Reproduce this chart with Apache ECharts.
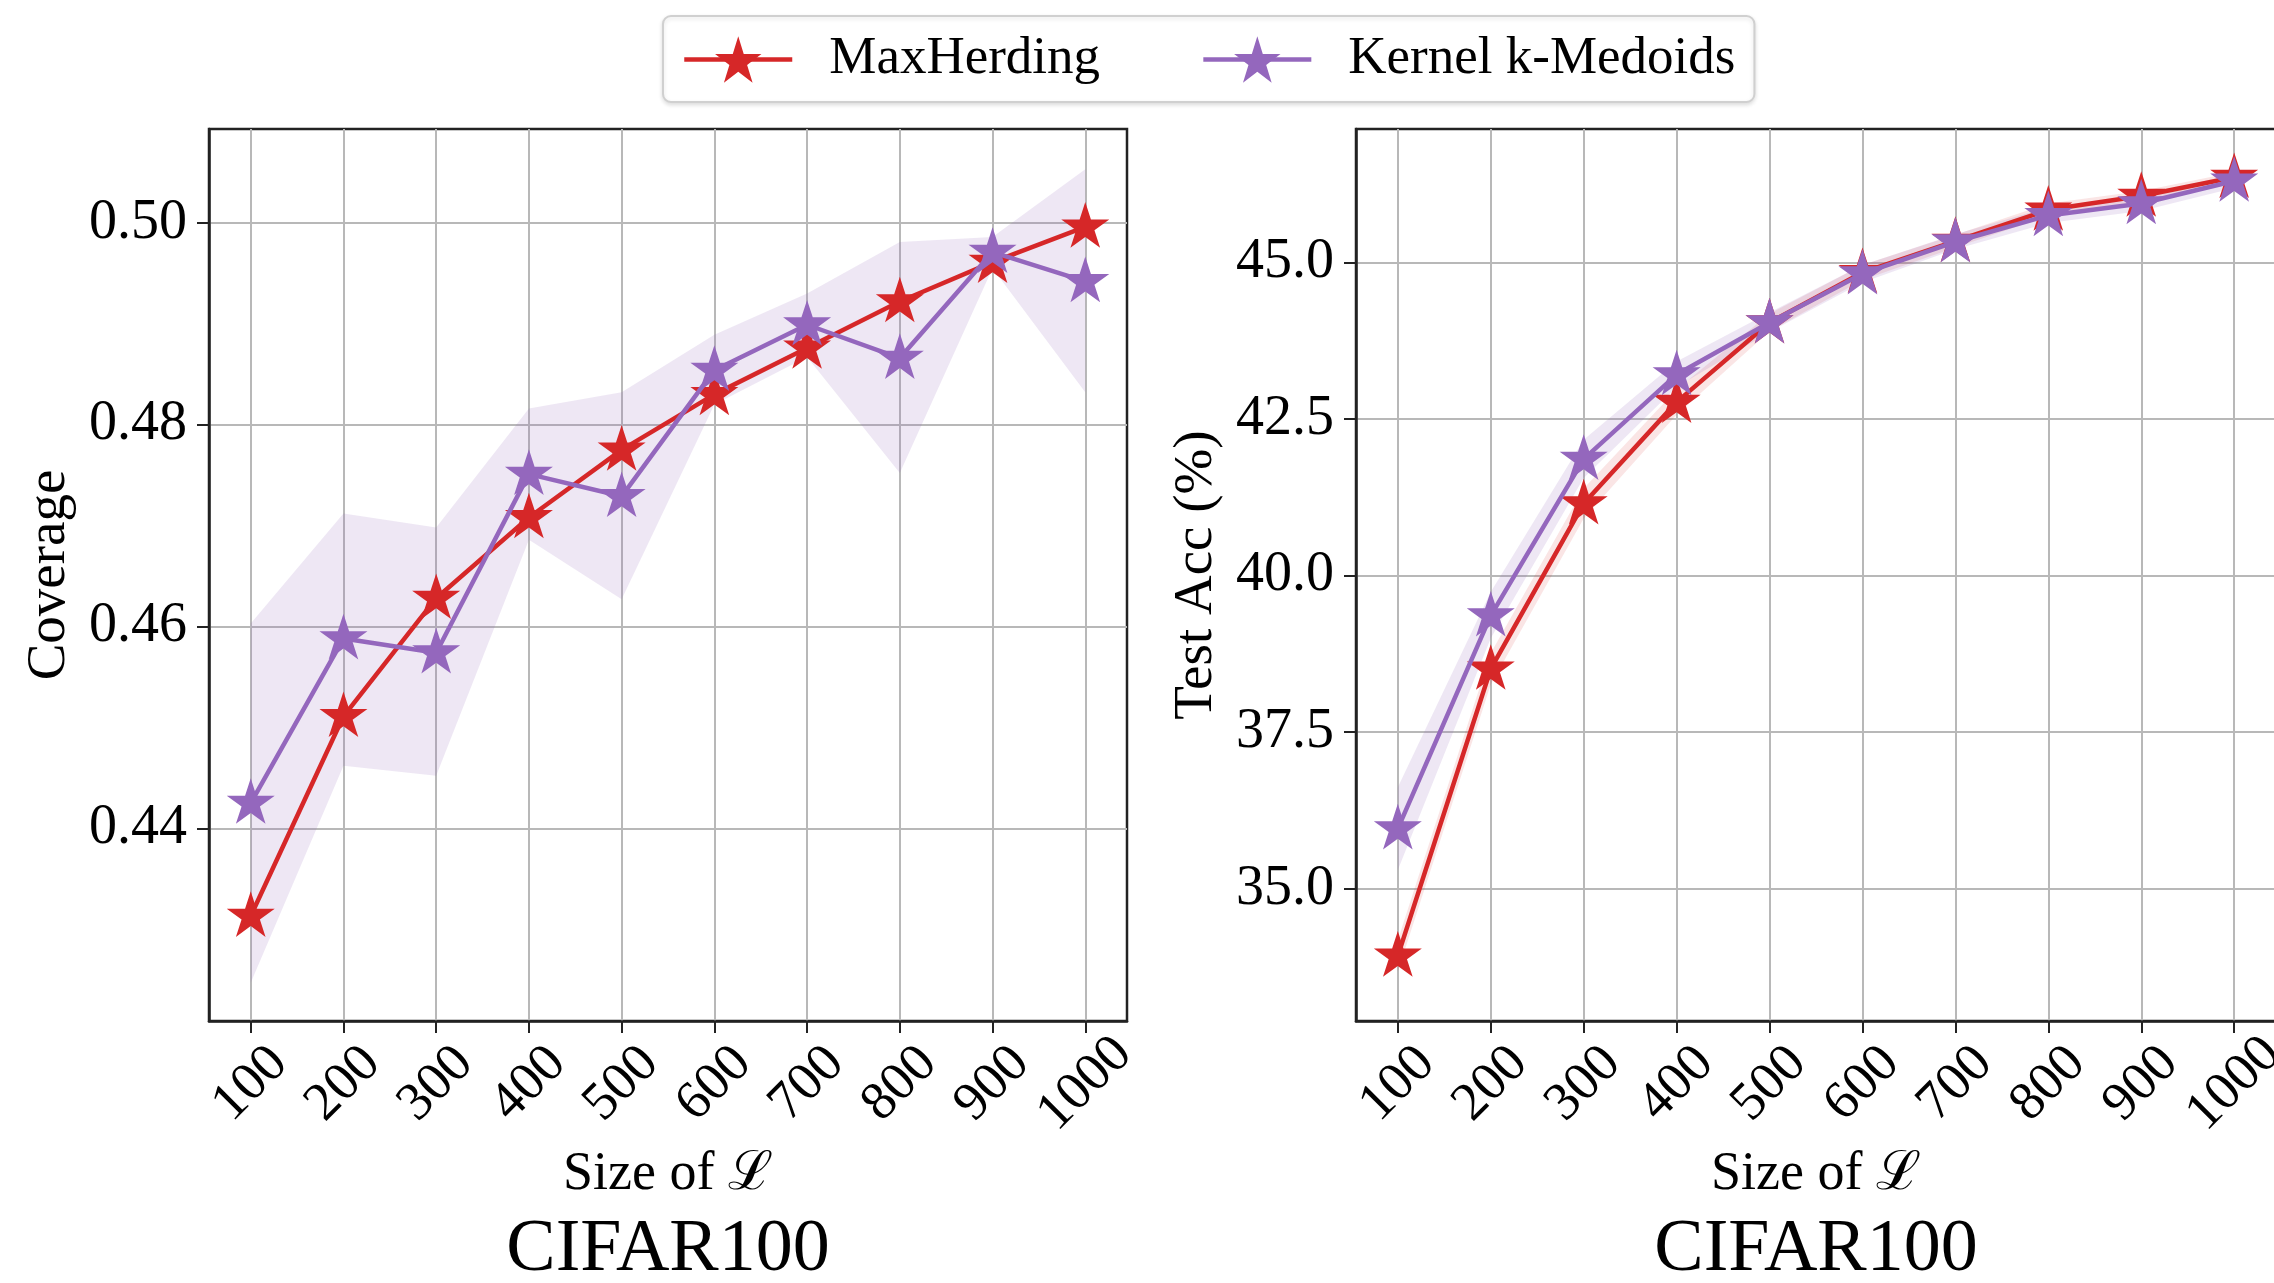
<!DOCTYPE html>
<html><head><meta charset="utf-8">
<script src="https://cdn.jsdelivr.net/npm/echarts@6/dist/echarts.min.js"></script>
<style>html,body{margin:0;padding:0;background:#fff}#c{width:2274px;height:1283px}</style>
</head><body><div id="c"></div>
<script>
// ---------- data ----------
const sizes = [100, 200, 300, 400, 500, 600, 700, 800, 900, 1000];
const seriesNames = ['MaxHerding', 'Kernel k-Medoids'];
const panelTitle = 'CIFAR100';
const xName = 'Size of \u2112';
const yNameLeft = 'Coverage';
const yNameRight = 'Test Acc (%)';

// left panel: coverage
const covMaxHerding = [0.4313, 0.4511, 0.4628, 0.4708, 0.4775, 0.4830, 0.4876, 0.4922, 0.4961, 0.4996];
const covKMedoids = [0.4425, 0.4588, 0.4574, 0.4751, 0.4729, 0.4854, 0.4899, 0.4866, 0.4971, 0.4942];
const covKMedoidsLow = [0.4247, 0.4462, 0.4452, 0.4686, 0.4627, 0.4820, 0.4867, 0.4752, 0.4955, 0.4832];
const covKMedoidsHigh = [0.4603, 0.4712, 0.4698, 0.4816, 0.4832, 0.4889, 0.4930, 0.4981, 0.4986, 0.5053];
const covTicks = [0.44, 0.46, 0.48, 0.50];

// right panel: test accuracy
const accMaxHerding = [33.93, 38.51, 41.15, 42.77, 44.04, 44.84, 45.34, 45.84, 46.06, 46.36];
const accKMedoids = [35.96, 39.36, 41.86, 43.21, 44.04, 44.82, 45.33, 45.75, 45.94, 46.30];
const accMaxHerdingLow = [33.68, 38.26, 40.91, 42.57, 43.90, 44.72, 45.24, 45.74, 45.98, 46.28];
const accMaxHerdingHigh = [34.18, 38.76, 41.39, 42.97, 44.18, 44.96, 45.44, 45.94, 46.14, 46.44];
const accKMedoidsLow = [35.30, 39.00, 41.56, 43.01, 43.89, 44.68, 45.21, 45.63, 45.82, 46.19];
const accKMedoidsHigh = [36.62, 39.74, 42.17, 43.42, 44.20, 44.96, 45.45, 45.88, 46.06, 46.41];
const accTicks = [35, 37.5, 40, 42.5, 45];

// ---------- style ----------
const RED = '#d62728', PURPLE = '#9467bd';
const FONT = "'Liberation Serif','DejaVu Serif',serif";

function starPath() {
  const pts = [];
  for (let i = 0; i < 10; i++) {
    const r = i % 2 ? 0.381966 : 1;
    const a = -Math.PI / 2 + i * Math.PI / 5;
    pts.push((r * Math.cos(a)).toFixed(4) + ' ' + (r * Math.sin(a)).toFixed(4));
  }
  return 'path://M' + pts.join(' L') + ' Z';
}
const STAR = starPath();

function bandSeries(gi, low, high, color) {
  return {
    type: 'custom', xAxisIndex: gi, yAxisIndex: gi, silent: true, z: 1, clip: true,
    data: sizes.map((x, i) => [x, low[i], high[i]]),
    encode: { x: 0, y: [1, 2] },
    renderItem: (params, api) => {
      if (params.dataIndex !== 0) return;
      const up = sizes.map((x, i) => api.coord([x, high[i]]));
      const dn = sizes.map((x, i) => api.coord([x, low[i]])).reverse();
      return { type: 'polygon', shape: { points: up.concat(dn) }, style: { fill: color } };
    }
  };
}
function lineSeries(name, gi, vals, color, z) {
  return {
    type: 'line', name, xAxisIndex: gi, yAxisIndex: gi,
    data: sizes.map((x, i) => [x, vals[i]]),
    symbol: STAR, symbolSize: 48, symbolKeepAspect: true, symbolOffset: [0, -2],
    lineStyle: { color, width: 4.5 }, itemStyle: { color }, z, clip: false,
    emphasis: { disabled: true }
  };
}
function xAxisCfg(gi) {
  return {
    type: 'value', gridIndex: gi, min: 55, max: 1045,
    name: xName, nameLocation: 'middle', nameGap: 116,
    nameTextStyle: { fontSize: 54, fontFamily: FONT, color: '#000' },
    axisLine: { show: true, onZero: false, lineStyle: { color: '#222', width: 2.5 } },
    axisTick: { show: true, length: 12, customValues: sizes, lineStyle: { color: '#222', width: 2 } },
    axisLabel: { customValues: sizes, rotate: 45, fontSize: 54, fontFamily: FONT, color: '#000',
      margin: 63, align: 'center', verticalAlign: 'middle', formatter: v => String(v) },
    splitLine: { show: true, lineStyle: { color: '#b8b8b8', width: 2 } }
  };
}
function yAxisCfg(gi, min, max, ticks, digits, name) {
  return {
    type: 'value', gridIndex: gi, min, max,
    name, nameLocation: 'middle', nameGap: 132,
    nameTextStyle: { fontSize: 55, fontFamily: FONT, color: '#000' },
    axisLine: { show: true, onZero: false, lineStyle: { color: '#222', width: 2.5 } },
    axisTick: { show: true, length: 12, customValues: ticks, lineStyle: { color: '#222', width: 2 } },
    axisLabel: { customValues: ticks, formatter: v => Number(v).toFixed(digits),
      fontSize: 56, fontFamily: FONT, color: '#000', margin: 22 },
    splitLine: { show: true, lineStyle: { color: '#b8b8b8', width: 2 } }
  };
}

const chart = echarts.init(document.getElementById('c'), null, { renderer: 'canvas' });
chart.setOption({
  backgroundColor: '#fff',
  animation: false,
  textStyle: { fontFamily: FONT },
  legend: {
    data: seriesNames, left: 663, top: 16, selectedMode: false,
    itemWidth: 108, itemHeight: 58, itemGap: 101, padding: [17, 19, 16, 19],
    lineStyle: { width: 4.5 },
    backgroundColor: '#fff', borderColor: '#d0d0d0', borderWidth: 2, borderRadius: 8,
    shadowColor: 'rgba(0,0,0,0.12)', shadowBlur: 4, shadowOffsetY: 2,
    formatter: n => '{g|}' + n,
    textStyle: { fontSize: 53, fontFamily: FONT, color: '#000', rich: { g: { width: 32 } } }
  },
  grid: [
    { left: 209, top: 129, width: 918, height: 892, show: true, borderColor: '#222', borderWidth: 2.5,
      backgroundColor: 'transparent', outerBoundsMode: 'none', containLabel: false },
    { left: 1356, top: 129, width: 920, height: 892, show: true, borderColor: '#222', borderWidth: 2.5,
      backgroundColor: 'transparent', outerBoundsMode: 'none', containLabel: false }
  ],
  xAxis: [xAxisCfg(0), xAxisCfg(1)],
  yAxis: [
    yAxisCfg(0, 0.4209, 0.5093, covTicks, 2, yNameLeft),
    yAxisCfg(1, 32.89, 47.13, accTicks, 1, yNameRight)
  ],
  graphic: [
    { type: 'text', x: 668, y: 1251, style: { text: panelTitle, fontSize: 74, fontFamily: FONT, fill: '#000', align: 'center', verticalAlign: 'middle' } },
    { type: 'text', x: 1816, y: 1251, style: { text: panelTitle, fontSize: 74, fontFamily: FONT, fill: '#000', align: 'center', verticalAlign: 'middle' } }
  ],
  series: [
    bandSeries(0, covKMedoidsLow, covKMedoidsHigh, 'rgba(148,103,189,0.16)'),
    lineSeries(seriesNames[0], 0, covMaxHerding, RED, 3),
    lineSeries(seriesNames[1], 0, covKMedoids, PURPLE, 4),
    bandSeries(1, accMaxHerdingLow, accMaxHerdingHigh, 'rgba(214,39,40,0.12)'),
    bandSeries(1, accKMedoidsLow, accKMedoidsHigh, 'rgba(148,103,189,0.16)'),
    lineSeries(seriesNames[0], 1, accMaxHerding, RED, 3),
    lineSeries(seriesNames[1], 1, accKMedoids, PURPLE, 4)
  ]
});
</script>
</body></html>
